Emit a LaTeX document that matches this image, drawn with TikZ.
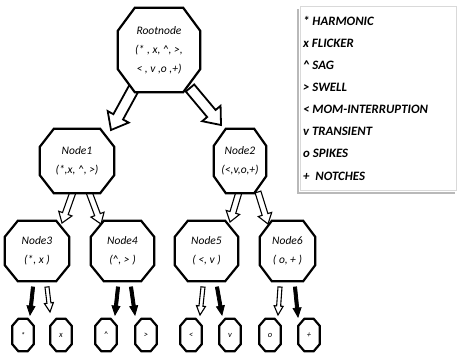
\documentclass[tikz,border=0pt]{standalone}
\usepackage{fontspec}
\setmainfont{Carlito}
\usetikzlibrary{calc,backgrounds}
\newcommand\octo[3]{%
  \draw[octline] ($(#1.north west)+(#2,0)$) -- ($(#1.north east)+(-#2,0)$) -- ($(#1.north east)+(0,#3)$) -- ($(#1.south east)+(0,-#3)$) -- ($(#1.south east)+(-#2,0)$) -- ($(#1.south west)+(#2,0)$) -- ($(#1.south west)+(0,-#3)$) -- ($(#1.north west)+(0,#3)$) -- cycle;}
\newcommand\blockarr[6]{%
  \coordinate (ba-h) at ($(#3)!#6!(#2)$);
  \draw[#1] ($(#2)!#4!90:(#3)$) -- ($(ba-h)!#4!90:(#3)$) -- ($(ba-h)!#5!90:(#3)$) -- (#3) -- ($(ba-h)!#5!-90:(#3)$) -- ($(ba-h)!#4!-90:(#3)$) -- ($(#2)!#4!-90:(#3)$) -- cycle;}
\tikzset{
  box/.style={inner sep=0pt, align=center, font=\fontsize{11.5}{19}\selectfont\itshape},
  leaf/.style={inner sep=0pt, minimum width=21pt, minimum height=32pt, font=\fontsize{8.5}{9}\selectfont\itshape},
  octline/.style={draw=black, line width=2.2pt, fill=white, line join=miter},
  bigarrow/.style={draw=black, line width=1.8pt, fill=white, line join=miter},
  hollowarrow/.style={draw=black, line width=1.1pt, fill=white, line join=miter},
  solidarrow/.style={draw=black, line width=0.8pt, fill=black, line join=miter},
}
\begin{document}
\begin{tikzpicture}[x=1pt,y=-1pt]
\useasboundingbox (0,0) rectangle (457,356);
% legend
\draw[gray!55, line width=2pt] (298,9) -- (298,193) -- (455,193);
\draw[gray!30, line width=0.8pt, fill=white] (300,6) rectangle (456,190);
\node[anchor=north west, align=left, inner sep=0pt, font=\fontsize{12.8}{22.1}\selectfont\bfseries\itshape] (legend) at (303,16)
  {* HARMONIC\\x FLICKER\\\textasciicircum{} SAG\\> SWELL\\< MOM-INTERRUPTION\\v TRANSIENT\\o SPIKES\\+ \ NOTCHES};
% tree nodes
\node[box, minimum width=82pt, minimum height=84pt] (root) at (159,50) {Rootnode\\(* , x, \textasciicircum, >,\\< , v ,o ,+)};
\node[box, minimum width=74pt, minimum height=64pt] (n1) at (77,161) {Node1\\(*,x, \textasciicircum, >)};
\node[box, minimum width=52pt, minimum height=64pt] (n2) at (240,161) {Node2\\(<,v,o,+)};
\node[box, minimum width=64pt, minimum height=60pt] (n3) at (37,251) {Node3\\(*, x )};
\node[box, minimum width=63pt, minimum height=60pt] (n4) at (122.5,251) {Node4\\(\textasciicircum, > )};
\node[box, minimum width=63pt, minimum height=60pt] (n5) at (206.5,251) {Node5\\( <, v )};
\node[box, minimum width=55pt, minimum height=60pt] (n6) at (287.5,251) {Node6\\( o, + )};
\node[leaf] (l1) at (23,335) {*};
\node[leaf] (l2) at (61,335) {x};
\node[leaf] (l3) at (106,335) {\textasciicircum};
\node[leaf] (l4) at (146,335) {>};
\node[leaf] (l5) at (191,335) {<};
\node[leaf] (l6) at (230,335) {v};
\node[leaf] (l7) at (270,335) {o};
\node[leaf] (l8) at (309,335) {+};
% connector end points
\coordinate (r1s) at (134,88);   \coordinate (r1e) at (111,130);
\coordinate (r2s) at (190,88);   \coordinate (r2e) at (221,125);
\coordinate (a3s) at (73,192);   \coordinate (a3e) at (62,223);
\coordinate (a4s) at (89,192);   \coordinate (a4e) at (101,224);
\coordinate (a5s) at (239,192);  \coordinate (a5e) at (230,222);
\coordinate (a6s) at (258,192);  \coordinate (a6e) at (268,224);
\coordinate (b1s) at (33,287);   \coordinate (b1e) at (30,315);
\coordinate (b2s) at (47,287);   \coordinate (b2e) at (50,312);
\coordinate (b3s) at (118,287);  \coordinate (b3e) at (115,315);
\coordinate (b4s) at (131,287);  \coordinate (b4e) at (135,315);
\coordinate (b5s) at (203,287);  \coordinate (b5e) at (200,315);
\coordinate (b6s) at (217,287);  \coordinate (b6e) at (222,315);
\coordinate (b7s) at (280,287);  \coordinate (b7e) at (278,315);
\coordinate (b8s) at (295,287);  \coordinate (b8e) at (298,317);
\begin{pgfonlayer}{background}
\blockarr{bigarrow}{r1s}{r1e}{5.5pt}{12pt}{15pt}
\blockarr{bigarrow}{r2s}{r2e}{5.5pt}{12pt}{15pt}
\blockarr{hollowarrow}{a3s}{a3e}{3pt}{7pt}{10pt}
\blockarr{hollowarrow}{a4s}{a4e}{3pt}{7pt}{10pt}
\blockarr{hollowarrow}{a5s}{a5e}{3pt}{7pt}{10pt}
\blockarr{hollowarrow}{a6s}{a6e}{3pt}{7pt}{10pt}
\blockarr{solidarrow}{b1s}{b1e}{1.6pt}{4pt}{9pt}
\blockarr{hollowarrow}{b2s}{b2e}{2pt}{4.5pt}{9pt}
\blockarr{solidarrow}{b3s}{b3e}{1.6pt}{4pt}{9pt}
\blockarr{solidarrow}{b4s}{b4e}{1.6pt}{4pt}{9pt}
\blockarr{hollowarrow}{b5s}{b5e}{2pt}{4.5pt}{9pt}
\blockarr{solidarrow}{b6s}{b6e}{1.6pt}{4pt}{9pt}
\blockarr{hollowarrow}{b7s}{b7e}{2pt}{4.5pt}{9pt}
\blockarr{solidarrow}{b8s}{b8e}{1.6pt}{4pt}{9pt}
\octo{root}{17}{23}
\octo{n1}{14}{18}
\octo{n2}{12}{17}
\octo{n3}{13}{16}
\octo{n4}{13}{16}
\octo{n5}{13}{16}
\octo{n6}{12}{16}
\foreach \l in {l1,l2,l3,l4,l5,l6,l7,l8} {\octo{\l}{6}{7}}
\end{pgfonlayer}
\end{tikzpicture}
\end{document}
